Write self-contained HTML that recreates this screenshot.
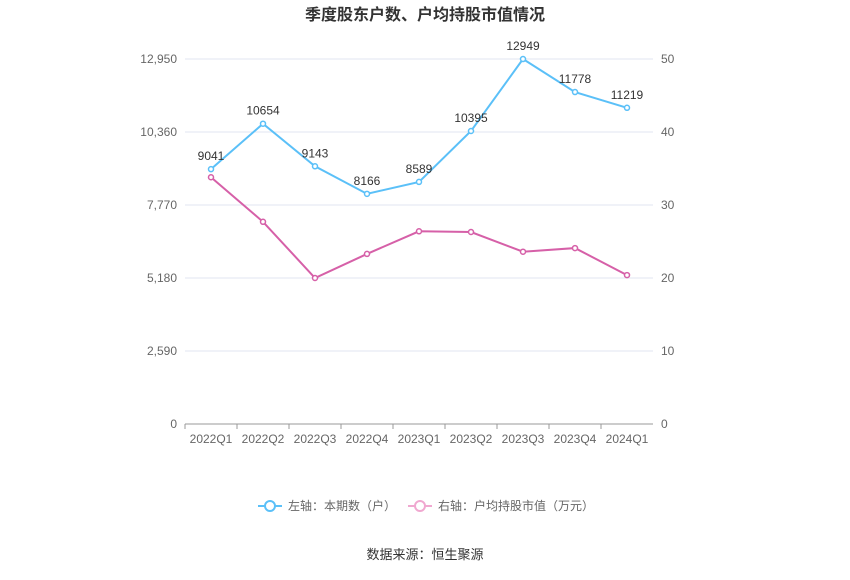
<!DOCTYPE html>
<html><head><meta charset="utf-8"><style>
body{margin:0;background:#fff;font-family:"Liberation Sans","Noto Sans CJK SC",sans-serif}
svg text{font-family:"Liberation Sans","Noto Sans CJK SC",sans-serif}
</style></head><body>
<svg id="c" width="850" height="575" xmlns="http://www.w3.org/2000/svg">
<text x="425" y="20" text-anchor="middle" font-size="16" font-weight="bold" fill="#333">季度股东户数、户均持股市值情况</text>
<g id="grid"></g><g id="axes"></g><g id="series"></g>
<g>
<g><line x1="258" y1="506" x2="282" y2="506" stroke="#5bc0f8" stroke-width="2"/><circle cx="270" cy="506" r="5" fill="#fff" stroke="#5bc0f8" stroke-width="2"/><text x="288" y="510" font-size="12" fill="#666">左轴：本期数（户）</text></g>
<g><line x1="408" y1="506" x2="432" y2="506" stroke="#f0a8d0" stroke-width="2"/><circle cx="420" cy="506" r="5" fill="#fff" stroke="#f0a8d0" stroke-width="2"/><text x="438" y="510" font-size="12" fill="#666">右轴：户均持股市值（万元）</text></g>
</g>
<text x="425" y="559" text-anchor="middle" font-size="13" fill="#333">数据来源：恒生聚源</text>
</svg>
<script>
const categories=["2022Q1","2022Q2","2022Q3","2022Q4","2023Q1","2023Q2","2023Q3","2023Q4","2024Q1"];
const holders=[9041,10654,9143,8166,8589,10395,12949,11778,11219];
const avgValue=[33.8,27.7,20.0,23.3,26.4,26.3,23.6,24.1,20.4];
const leftTicks=[0,2590,5180,7770,10360,12950];
const leftTickLabels=["0","2,590","5,180","7,770","10,360","12,950"];
const rightTicks=[0,10,20,30,40,50];
const NS="http://www.w3.org/2000/svg";
const x0=185,x1=653,yB=424,yT=59;
const xs=i=>x0+(x1-x0)/categories.length*(i+0.5);
const yL=v=>yB-(v/12950)*(yB-yT);
const yR=v=>yB-(v/50)*(yB-yT);
function mk(p,t,a){const e=document.createElementNS(NS,t);for(const k in a)e.setAttribute(k,a[k]);p.appendChild(e);return e;}
const grid=document.getElementById('grid'),axes=document.getElementById('axes'),ser=document.getElementById('series');
leftTicks.forEach((v,i)=>{
 const g=mk(grid,'line',{x1:x0,x2:x1,y1:yL(v),y2:yL(v),stroke:i==0?'#999':'#e0e6f1','stroke-width':1});
 
 
 const t=mk(axes,'text',{x:177,y:yL(v)+4,'text-anchor':'end','font-size':12,fill:'#666'});t.textContent=leftTickLabels[i];
 
 
});
rightTicks.forEach(v=>{
 const t=mk(axes,'text',{x:661,y:yR(v)+4,'font-size':12,fill:'#666'});t.textContent=v;
 
 
});
categories.forEach((c,i)=>{
 const t=mk(axes,'text',{x:xs(i),y:443,'text-anchor':'middle','font-size':12,fill:'#666'});t.textContent=c;
 
 
 const tk=mk(axes,'line',{x1:x0+(x1-x0)/9*i,x2:x0+(x1-x0)/9*i,y1:yB,y2:yB+5,stroke:'#999'});
 
 
});
function line(vals,yf,col,name,labels){
 const p=mk(ser,'polyline',{points:vals.map((v,i)=>xs(i)+','+yf(v)).join(' '),fill:'none',stroke:col,'stroke-width':2});
 
 
 vals.forEach((v,i)=>{
  const c=mk(ser,'circle',{cx:xs(i),cy:yf(v),r:2.5,fill:'#fff',stroke:col,'stroke-width':1.5});
  
  
  if(labels){const t=mk(ser,'text',{x:xs(i),y:yf(v)-9,'text-anchor':'middle','font-size':12,fill:'#333'});t.textContent=v;
  
  }
 });
}
line(holders,yL,'#5bc0f8','holders',true);
line(avgValue,yR,'#d660a8','avg-value',false);
</script>
</body></html>
